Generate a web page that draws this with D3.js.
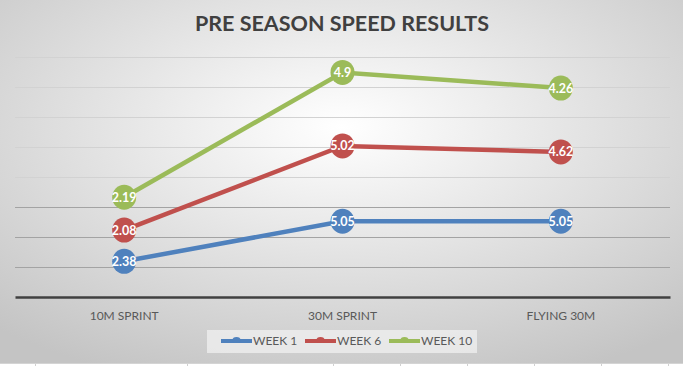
<!DOCTYPE html>
<meta charset="utf-8" />
<head>
  <script src="https://d3js.org/d3.v7.min.js"></script>
  <style>
    body { margin: 0; background: #fff; }
    svg { display: block; }
  </style>
</head>
<body>
  <div id="chart"></div>
</body>
<script>
  // data (stacked line chart, labels show each series' own value)
  var categories = ["10M SPRINT", "30M SPRINT", "FLYING 30M"];
  var week1 = [2.38, 5.05, 5.05];
  var week6 = [2.08, 5.02, 4.62];
  var week10 = [2.19, 4.9, 4.26];
  var seriesNames = ["WEEK 1", "WEEK 6", "WEEK 10"];
  var seriesColors = ["#4f81bd", "#c0504d", "#9bbb59"];
  var yTicks = [0, 2, 4, 6, 8, 10, 12, 14, 16];

  var W = 683, H = 366;
  var margin = { top: 57, right: 13, bottom: 69, left: 15 };
  var width = W - margin.left - margin.right,
    height = H - margin.top - margin.bottom; // 240

  var svg = d3.select("#chart").append("svg")
    .attr("width", W).attr("height", H);

  // background gradient
  var defs = svg.append("defs");
  var grad = defs.append("radialGradient").attr("id", "bg")
    .attr("cx", "50%").attr("cy", "35%").attr("r", "75%");
  grad.append("stop").attr("offset", "0%").attr("stop-color", "#ffffff");
  grad.append("stop").attr("offset", "100%").attr("stop-color", "#c4c4c4");

  svg.append("rect").attr("width", W).attr("height", 363).attr("fill", "url(#bg)");

  // spreadsheet cell lines peeking at the bottom
  svg.append("rect").attr("y", 363).attr("width", W).attr("height", 3).attr("fill", "#ffffff");
  svg.append("line").attr("x1", 0).attr("x2", W).attr("y1", 363.5).attr("y2", 363.5)
    .attr("stroke", "#d4d4d4");
  [35, 187, 333, 400, 467, 534, 601, 668].forEach(function (x) {
    svg.append("line").attr("x1", x + 0.5).attr("x2", x + 0.5)
      .attr("y1", 364).attr("y2", 366).attr("stroke", "#d0d0d0");
  });

  // title
  svg.append("text")
    .attr("x", 342).attr("y", 31)
    .attr("text-anchor", "middle")
    .style("font-family", "Lato, 'Open Sans', sans-serif")
    .style("font-weight", "bold")
    .style("font-size", "21.5px")
    .attr("fill", "#404040")
    .text("PRE SEASON SPEED RESULTS");

  var g = svg.append("g")
    .attr("transform", "translate(" + margin.left + "," + margin.top + ")");

  var x = d3.scaleBand().domain(categories).range([0, width]);
  var y = d3.scaleLinear().domain([0, 16]).range([height, 0]);

  // gridlines
  g.selectAll(".grid").data(yTicks.slice(1)).enter().append("line")
    .attr("x1", 0).attr("x2", width)
    .attr("y1", function (d) { return Math.round(y(d)) + 0.5; })
    .attr("y2", function (d) { return Math.round(y(d)) + 0.5; })
    .attr("stroke", function (d) { return d >= 8 ? "#d2d2d2" : "#a3a3a3"; })
    .attr("stroke-width", 1);

  // x axis
  var xAxis = g.append("g")
    .attr("transform", "translate(0," + height + ")")
    .call(d3.axisBottom(x).tickSize(0).tickPadding(14));
  xAxis.select(".domain").attr("stroke", "#404040").attr("stroke-width", 2.5);
  xAxis.selectAll("text")
    .style("font-family", "Lato, 'Open Sans', sans-serif")
    .style("font-size", "12px")
    .attr("fill", "#595959");

  // stack the series
  var raw = [week1, week6, week10];
  var stacked = [];
  var base = categories.map(function () { return 0; });
  raw.forEach(function (vals) {
    var pts = vals.map(function (v, i) {
      base[i] += v;
      return { cat: categories[i], val: v, top: base[i] };
    });
    stacked.push(pts);
  });

  var line = d3.line()
    .x(function (d) { return x(d.cat) + x.bandwidth() / 2; })
    .y(function (d) { return y(d.top); });

  stacked.forEach(function (pts, s) {
    g.append("path").datum(pts)
      .attr("d", line)
      .attr("fill", "none")
      .attr("stroke", seriesColors[s])
      .attr("stroke-width", 4.5);
  });

  stacked.forEach(function (pts, s) {
    var m = g.selectAll(".m" + s).data(pts).enter().append("g")
      .attr("transform", function (d) {
        return "translate(" + (x(d.cat) + x.bandwidth() / 2) + "," + y(d.top) + ")";
      });
    m.append("ellipse").attr("rx", 12).attr("ry", 12.5)
      .attr("fill", seriesColors[s]);
    m.append("text")
      .attr("text-anchor", "middle")
      .attr("dy", "0.36em")
      .style("font-family", "Lato, 'Open Sans', sans-serif")
      .style("font-size", "12.5px")
      .style("font-weight", "bold")
      .attr("fill", "#ffffff")
      .text(function (d) { return d.val; });
  });

  // legend
  var legend = svg.append("g");
  legend.append("rect")
    .attr("x", 207).attr("y", 330).attr("width", 270).attr("height", 23)
    .attr("fill", "#f0f0f0").attr("opacity", 0.75);
  var legX = [221, 305, 389];
  seriesNames.forEach(function (name, i) {
    var lg = legend.append("g").attr("transform", "translate(" + legX[i] + ",341)");
    lg.append("line").attr("x1", 0).attr("x2", 31).attr("y1", 0).attr("y2", 0)
      .attr("stroke", seriesColors[i]).attr("stroke-width", 4);
    lg.append("ellipse").attr("cx", 15.5).attr("cy", -1).attr("rx", 4).attr("ry", 3)
      .attr("fill", seriesColors[i]);
    lg.append("text").attr("x", 32).attr("y", 0).attr("dy", "0.35em")
      .style("font-family", "Lato, 'Open Sans', sans-serif")
      .style("font-size", "12px")
      .attr("fill", "#595959")
      .text(name);
  });
</script>
